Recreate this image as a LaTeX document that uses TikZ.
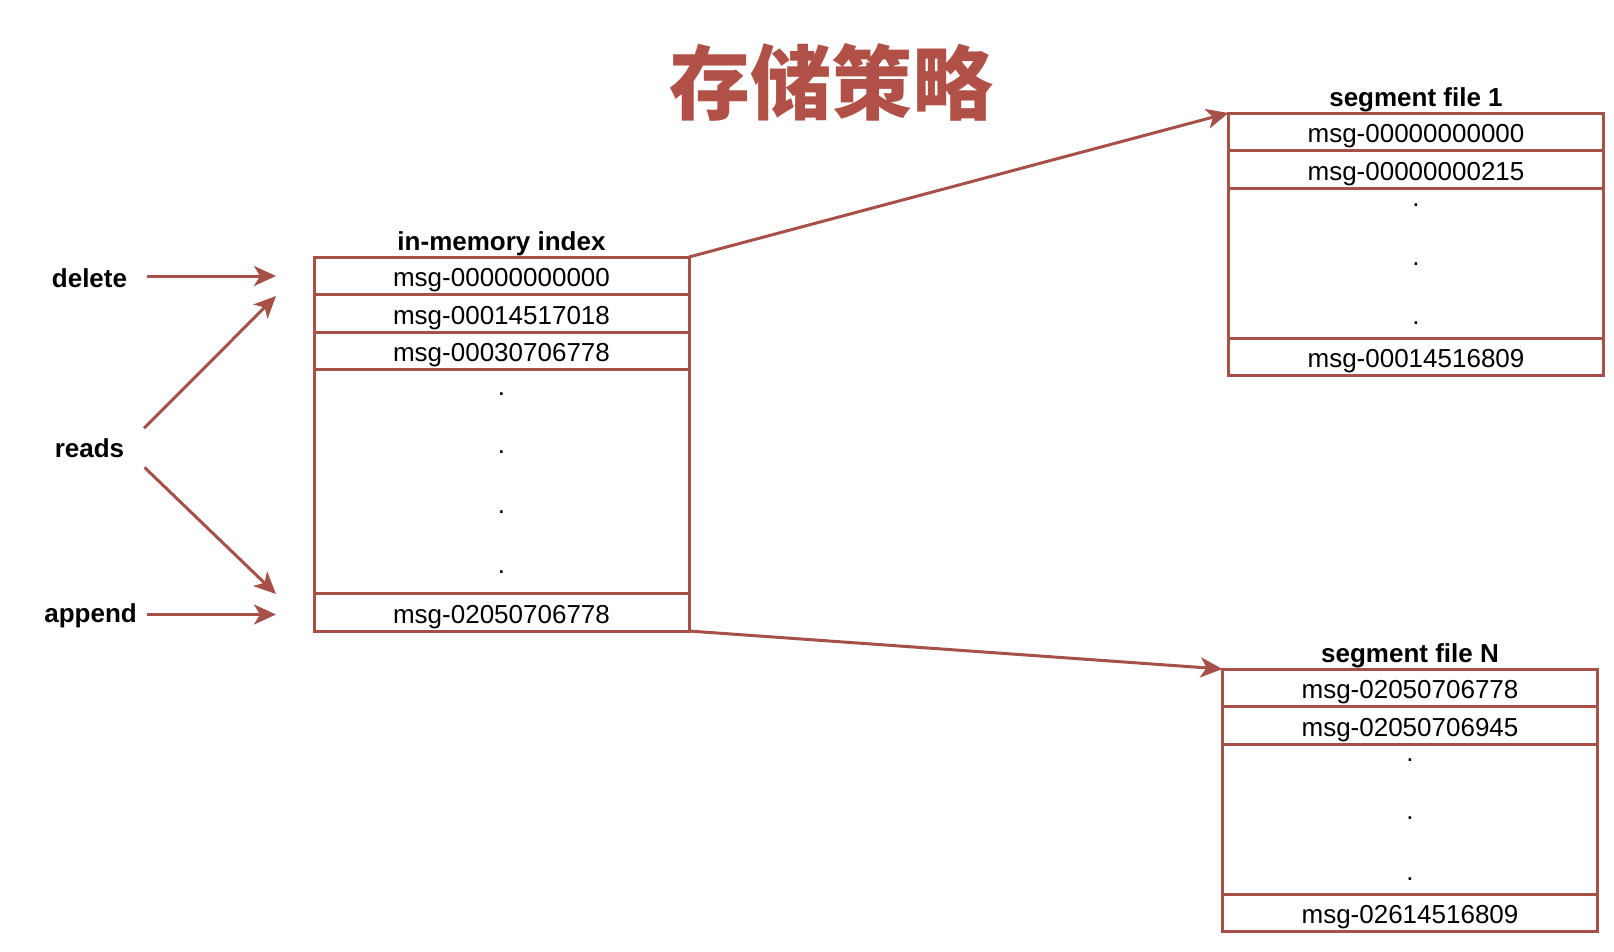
\documentclass[tikz,border=0pt]{standalone}
\usepackage{fontspec}
\setmainfont{Liberation Sans}
\newfontfamily\cjk{Noto Sans CJK SC}
\usetikzlibrary{positioning,arrows.meta}
\definecolor{brick}{RGB}{166,80,72}
\definecolor{titlered}{RGB}{176,80,70}
\tikzset{>={Stealth[length=22pt,width=20pt,inset=6pt]}}

\begin{document}
\begin{tikzpicture}[x=1pt,y=-1pt,
	cell/.style={draw=brick,line width=3pt,minimum width=375pt,minimum height=37.5pt,
		inner sep=0pt,outer sep=0pt,text height=22pt,text depth=0pt,font=\fontsize{26}{26}\selectfont},
	bigcell/.style={cell,minimum height=#1},
	head/.style={font=\fontsize{26}{26}\selectfont\bfseries,inner sep=0pt},
	dotmark/.style={font=\fontsize{26}{26}\selectfont,inner sep=0pt},
	link/.style={->,draw=brick,line width=3pt}]
		\useasboundingbox (0,0) rectangle (1614,951);
		
		% title
		\node[font=\cjk\bfseries\fontsize{81}{81}\selectfont,text=titlered] (title) at (831.7,82.3) {存储策略};
		
		% in-memory index
		\node[cell,anchor=north] (idx1) at (501.5,257) {msg-00000000000};
		\node[cell,below=0pt of idx1] (idx2) {msg-00014517018};
		\node[cell,below=0pt of idx2] (idx3) {msg-00030706778};
		\node[bigcell=224pt,below=0pt of idx3] (idxgap) {};
		\node[cell,below=0pt of idxgap] (idxN) {msg-02050706778};
		\node[head,above=1pt of idx1] (idxhead) {in-memory index};
		\foreach \d [count=\i] in {24.5,83,143,203}
			\node[dotmark] (idxdot\i) at ([yshift=-\d pt]idxgap.north) {.};
		
		% segment file 1
		\node[cell,anchor=north] (seg1a) at (1416,113) {msg-00000000000};
		\node[cell,below=0pt of seg1a] (seg1b) {msg-00000000215};
		\node[bigcell=150pt,below=0pt of seg1b] (seg1gap) {};
		\node[cell,below=0pt of seg1gap] (seg1z) {msg-00014516809};
		\node[head,above=1pt of seg1a] (seg1head) {segment file 1};
		\foreach \d [count=\i] in {17.5,76.5,135}
			\node[dotmark] (seg1dot\i) at ([yshift=-\d pt]seg1gap.north) {.};
		
		% segment file N
		\node[cell,anchor=north] (segNa) at (1410,669) {msg-02050706778};
		\node[cell,below=0pt of segNa] (segNb) {msg-02050706945};
		\node[bigcell=150pt,below=0pt of segNb] (segNgap) {};
		\node[cell,below=0pt of segNgap] (segNz) {msg-02614516809};
		\node[head,above=1pt of segNa] (segNhead) {segment file N};
		\foreach \d [count=\i] in {16.5,74.5,135}
			\node[dotmark] (segNdot\i) at ([yshift=-\d pt]segNgap.north) {.};
		
		% operations
		\node[head] (delete) at (89.5,278) {delete};
		\node[head] (reads) at (89.5,448) {reads};
		\node[head] (append) at (90.6,615.5) {append};
		\coordinate (toDel) at (276,276);
		\coordinate (toRdTop) at (276,296);
		\coordinate (toRdBot) at (276,594);
		\coordinate (toApp) at (276,614.5);
		
		\draw[link,shorten <=20pt] (delete.east |- toDel) -- (toDel);
		\draw[link,shorten <=28pt] (reads.east) -- (toRdTop);
		\draw[link,shorten <=28pt] (reads.east) -- (toRdBot);
		\draw[link,shorten <=10pt] (append.east |- toApp) -- (toApp);
		
		% index -> segments
		\draw[link] (idx1.north east) -- (seg1a.north west);
		\draw[link] (idxN.south east) -- (segNa.north west);
\end{tikzpicture}
\end{document}
